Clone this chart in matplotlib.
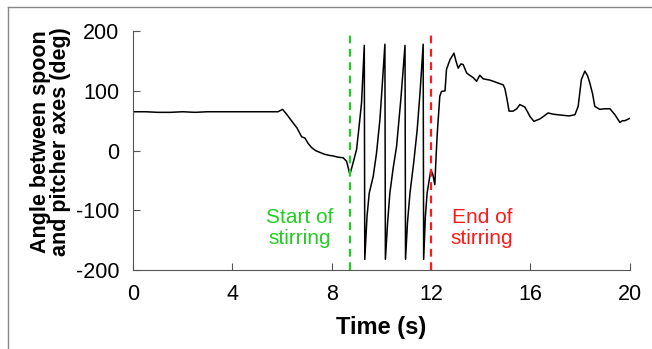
import numpy as np
import matplotlib.pyplot as plt
from matplotlib.lines import Line2D

plt.rcParams['font.family'] = ['Liberation Sans', 'DejaVu Sans']
plt.rcParams['axes.unicode_minus'] = False

# angle trace (time in s, angle in deg)
t = [0.0, 0.5, 1.0, 1.5, 2.0, 2.5, 3.0, 3.5, 4.0, 4.5, 5.0, 5.5, 5.84, 6.02,
     6.2, 6.45, 6.6, 6.79, 6.92, 7.05, 7.19, 7.35, 7.52, 7.7, 7.9, 8.06, 8.25, 8.46, 8.6, 8.73,
     8.85, 9.0, 9.1, 9.2, 9.31,
     9.33, 9.42, 9.51, 9.67, 9.8, 9.94, 10.05, 10.14,
     10.16, 10.25, 10.34, 10.47, 10.61, 10.78, 10.95,
     10.97, 11.05, 11.15, 11.3, 11.44, 11.56, 11.68,
     11.70, 11.77, 11.84, 11.92, 11.99, 12.07, 12.15, 12.2, 12.25, 12.35, 12.42, 12.56,
     12.62, 12.76, 12.92, 13.0, 13.09, 13.2, 13.29, 13.43, 13.55, 13.7, 13.83, 13.96,
     14.1, 14.23, 14.36, 14.5, 14.7, 14.9, 14.97, 15.06, 15.14, 15.3, 15.45, 15.57,
     15.77, 15.88, 15.98, 16.14, 16.38, 16.55, 16.71, 16.9, 17.1, 17.32, 17.55, 17.79,
     17.92, 18.05, 18.19, 18.3, 18.39, 18.5, 18.59, 18.79, 19.0, 19.2, 19.4, 19.6,
     19.7, 19.8, 20.0]
angle = [65, 65, 64, 64, 65, 64, 65, 65, 65, 65, 65, 65, 65, 69,
         60, 46, 38, 23, 21, 12, 5, 0, -3, -6, -8, -9, -11, -12, -18, -40,
         -22, 2, 40, 80, 176,
         -182, -110, -71, -43, -5, 52, 120, 178,
         -182, -120, -71, -30, 7, 85, 176,
         -182, -120, -71, -20, 35, 100, 178,
         -182, -110, -71, -50, -32, -40, -57, -10, 30, 91, 99, 100,
         136, 152, 163, 150, 138, 145, 144, 130, 126, 122, 116, 126,
         120, 119, 118, 116, 113, 110, 104, 85, 66, 66, 70, 77,
         73, 65, 57, 49, 53, 58, 63, 61, 60, 59, 58, 60,
         74, 119, 133, 125, 113, 95, 74, 69, 70, 70, 60, 47,
         50, 50, 54]

start_t = 8.73
end_t = 11.99

fig = plt.figure(figsize=(6.52, 3.49), dpi=100)
ax = fig.add_axes([0.204, 0.226, 0.762, 0.685])

ax.plot(t, angle, color='black', lw=1.1)
ax.axvline(start_t, color='#22cc22', ls=(0, (3.5, 2.5)), lw=1.6)
ax.axvline(end_t, color='#ff1a1a', ls=(0, (3.5, 2.5)), lw=1.6)

ax.text(6.7, -130, 'Start of\nstirring', color='#22cc22', fontsize=15,
        ha='center', va='center', linespacing=1.15)
ax.text(14.05, -130, 'End of\nstirring', color='#ff1a1a', fontsize=15,
        ha='center', va='center', linespacing=1.15)

ax.set_xlim(0, 20)
ax.set_ylim(-200, 200)
ax.set_xticks([0, 4, 8, 12, 16, 20])
ax.set_yticks([-200, -100, 0, 100, 200])
ax.tick_params(direction='in', labelsize=15.5, length=5, color='#555555')
ax.tick_params(axis='x', pad=10)
ax.tick_params(axis='y', pad=10)
for s in ['top', 'right']:
    ax.spines[s].set_visible(False)
for s in ['left', 'bottom']:
    ax.spines[s].set_color('#555555')

ax.set_xlabel('Time (s)', fontsize=17, fontweight='bold', labelpad=8)
fig.text(0.077, 0.595, 'Angle between spoon\nand pitcher axes (deg)', rotation=90,
         fontsize=15.5, fontweight='bold', ha='center', va='center', linespacing=0.95)

# outer frame (top and left)
fig.add_artist(Line2D([0.013, 1.0], [0.981, 0.981], transform=fig.transFigure,
                      color='#888888', lw=1))
fig.add_artist(Line2D([0.013, 0.013], [0.0, 0.981], transform=fig.transFigure,
                      color='#888888', lw=1))

fig.savefig('out.png', dpi=100)
